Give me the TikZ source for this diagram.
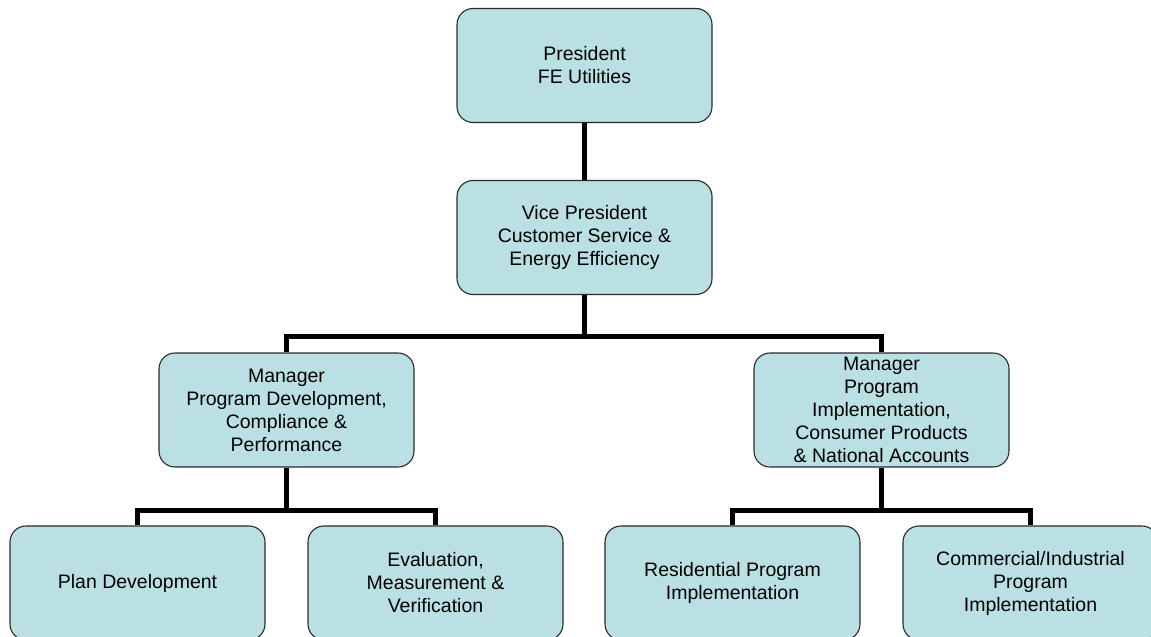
\documentclass[tikz,border=0pt]{standalone}
\usepackage{fontspec}
\setmainfont{Liberation Sans}
\definecolor{boxfill}{HTML}{BAE0E3}
\definecolor{boxline}{HTML}{2A2A2A}
\begin{document}
\begin{tikzpicture}[x=1pt,y=-1pt,
  orgbox/.style={draw=boxline, line width=1.1pt, fill=boxfill, rounded corners=16pt,
    minimum width=255pt, minimum height=114pt, inner sep=0pt, align=center,
    font=\fontsize{19.5}{23}\selectfont},
  link/.style={line width=4.4pt, draw=black}]
\useasboundingbox (0,0) rectangle (1151,637);
\clip (0,0) rectangle (1151,637);
\coordinate (b1) at (584.5,336.5);
\coordinate (b2) at (286.5,510.5);
\coordinate (b3) at (881.5,510.5);
\node[orgbox] (pres) at (584.5,65.5) {President\\FE Utilities};
\node[orgbox] (vp) at (584.5,237.5) {Vice President\\Customer Service \&\\Energy Efficiency};
\node[orgbox] (lm) at (286.5,410) {Manager\\Program Development,\\Compliance \&\\Performance};
\node[orgbox] (rm) at (881.5,410) {Manager\\Program\\Implementation,\\Consumer Products\\\& National Accounts};
\node[orgbox] (pd) at (137.5,583) {Plan Development};
\node[orgbox] (ev) at (435.5,583) {Evaluation,\\Measurement \&\\Verification};
\node[orgbox] (rp) at (732.5,583) {Residential Program\\Implementation};
\node[orgbox] (ci) at (1030.5,583) {Commercial/Industrial\\Program\\Implementation};
\draw[link] (pres.south) -- (vp.north);
\draw[link] (vp.south) -- (b1);
\draw[link] (lm.north) |- (b1) -| (rm.north);
\draw[link] (lm.south) -- (b2);
\draw[link] (pd.north) |- (b2) -| (ev.north);
\draw[link] (rm.south) -- (b3);
\draw[link] (rp.north) |- (b3) -| (ci.north);
\end{tikzpicture}
\end{document}
